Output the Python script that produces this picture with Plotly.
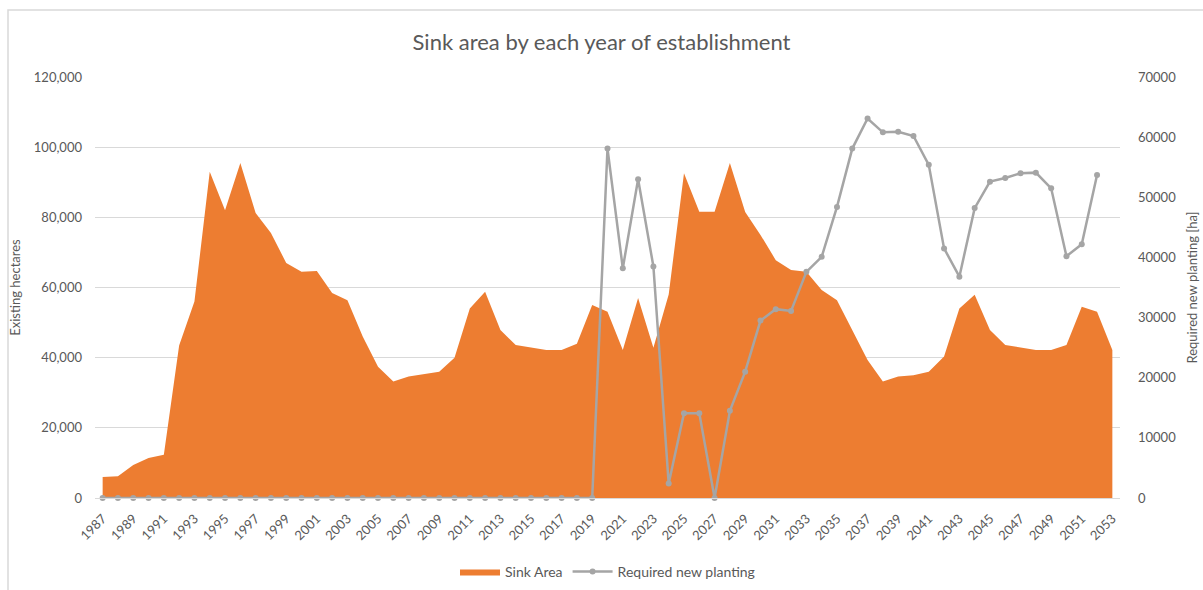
import plotly.graph_objects as go

# Year of establishment (category axis)
years = list(range(1987, 2054))

# Existing sink area per establishment year [ha]
sink_area = [
    6000, 6200, 9400, 11400, 12300, 43500, 56000, 93000, 82000, 95500,   # 1987-1996
    81200, 75500, 67000, 64500, 64700, 58400, 56400, 46000, 37400, 33200,  # 1997-2006
    34600, 35300, 36000, 40000, 54000, 58800, 47900, 43600, 42800, 42200,  # 2007-2016
    42200, 44000, 55000, 53100, 42200, 57000, 42800, 58000, 92600, 81600,  # 2017-2026
    81600, 95500, 81500, 75000, 67800, 65000, 64500, 59300, 56400, 47900,  # 2027-2036
    39300, 33200, 34600, 35000, 36000, 40300, 54000, 57900, 47900, 43600,  # 2037-2046
    42800, 42200, 42200, 43600, 54500, 53100, 42200,                       # 2047-2053
]

# Required new planting per year [ha]; no value for the final year
new_planting = [0] * 33 + [
    58100, 38200, 53000, 38500, 2400, 14100, 14100, 0, 14500, 21000,       # 2020-2029
    29500, 31400, 31100, 37600, 40100, 48400, 58100, 63100, 60800, 60900,  # 2030-2039
    60200, 55400, 41500, 36800, 48200, 52600, 53200, 54000, 54100, 51500,  # 2040-2049
    40200, 42200, 53700, None,                                             # 2050-2053
]

tick_years = years[::2]
tick_text = [str(y) for y in tick_years]

left_ticks = list(range(0, 120001, 20000))
right_ticks = list(range(0, 70001, 10000))

ORANGE = "#ED7D31"
GREY = "#A5A5A5"
TEXT = "#595959"
GRID = "#D9D9D9"
FONT = "Lato, 'Open Sans', sans-serif"

fig = go.Figure()

fig.add_trace(go.Scatter(
    x=years, y=sink_area, name="Sink Area",
    mode="lines", line=dict(width=0, color=ORANGE),
    fill="tozeroy", fillcolor=ORANGE, yaxis="y",
))

fig.add_trace(go.Scatter(
    x=years, y=new_planting, name="Required new planting",
    mode="lines+markers", line=dict(width=2.5, color=GREY),
    marker=dict(size=6, color=GREY), yaxis="y2", cliponaxis=False,
))

# plot-area geometry in pixels, used for the outer chart border
W, H = 1203, 590
L, R, T, B = 95, 83, 77, 92
pw, ph = W - L - R, H - T - B

def px_x(x):
    return (x - L) / pw

def px_y(y):
    return (H - B - y) / ph

fig.update_layout(
    width=W, height=H,
    margin=dict(l=L, r=R, t=T, b=B, autoexpand=False),
    paper_bgcolor="white", plot_bgcolor="white",
    font=dict(family=FONT, color=TEXT, size=13),
    title=dict(
        text="Sink area by each year of establishment",
        x=0.5, xanchor="center", y=1 - 42 / H, yanchor="middle",
        font=dict(size=22, color=TEXT, family=FONT),
    ),
    xaxis=dict(
        range=[1986.5, 2053.5], automargin=False,
        tickmode="array", tickvals=tick_years, ticktext=tick_text,
        tickangle=-45, tickfont=dict(size=13, color=TEXT),
        showgrid=False, zeroline=False,
        showline=True, linecolor=GRID, linewidth=1,
        ticks="", ticklabelstandoff=7,
    ),
    yaxis=dict(
        range=[0, 120000], tickvals=left_ticks, tickformat=",.0f",
        automargin=False,
        showgrid=True, gridcolor=GRID, gridwidth=1,
        zeroline=False, showline=False, ticks="",
        tickfont=dict(size=13, color=TEXT), ticklabelstandoff=12,
        title=dict(text="Existing hectares", font=dict(size=13, color=TEXT), standoff=10),
    ),
    yaxis2=dict(
        range=[0, 70000], tickvals=right_ticks, tickformat=".0f",
        overlaying="y", side="right", automargin=False,
        showgrid=False, zeroline=False, showline=False, ticks="",
        tickfont=dict(size=13, color=TEXT), ticklabelstandoff=17,
        title=dict(text="Required new planting [ha]", font=dict(size=13, color=TEXT), standoff=12),
    ),
    legend=dict(
        orientation="h", x=0.5, xanchor="center",
        y=px_y(572), yanchor="middle",
        font=dict(size=14, color=TEXT), bgcolor="rgba(0,0,0,0)",
        itemwidth=40,
    ),
    showlegend=True,
)

# outer chart border
fig.add_shape(
    type="rect", xref="paper", yref="paper",
    x0=px_x(8), x1=px_x(W + 5), y0=px_y(H + 5), y1=px_y(10),
    line=dict(color=GRID, width=1.5), fillcolor="rgba(0,0,0,0)", layer="below",
)

fig.write_html("out.html")
